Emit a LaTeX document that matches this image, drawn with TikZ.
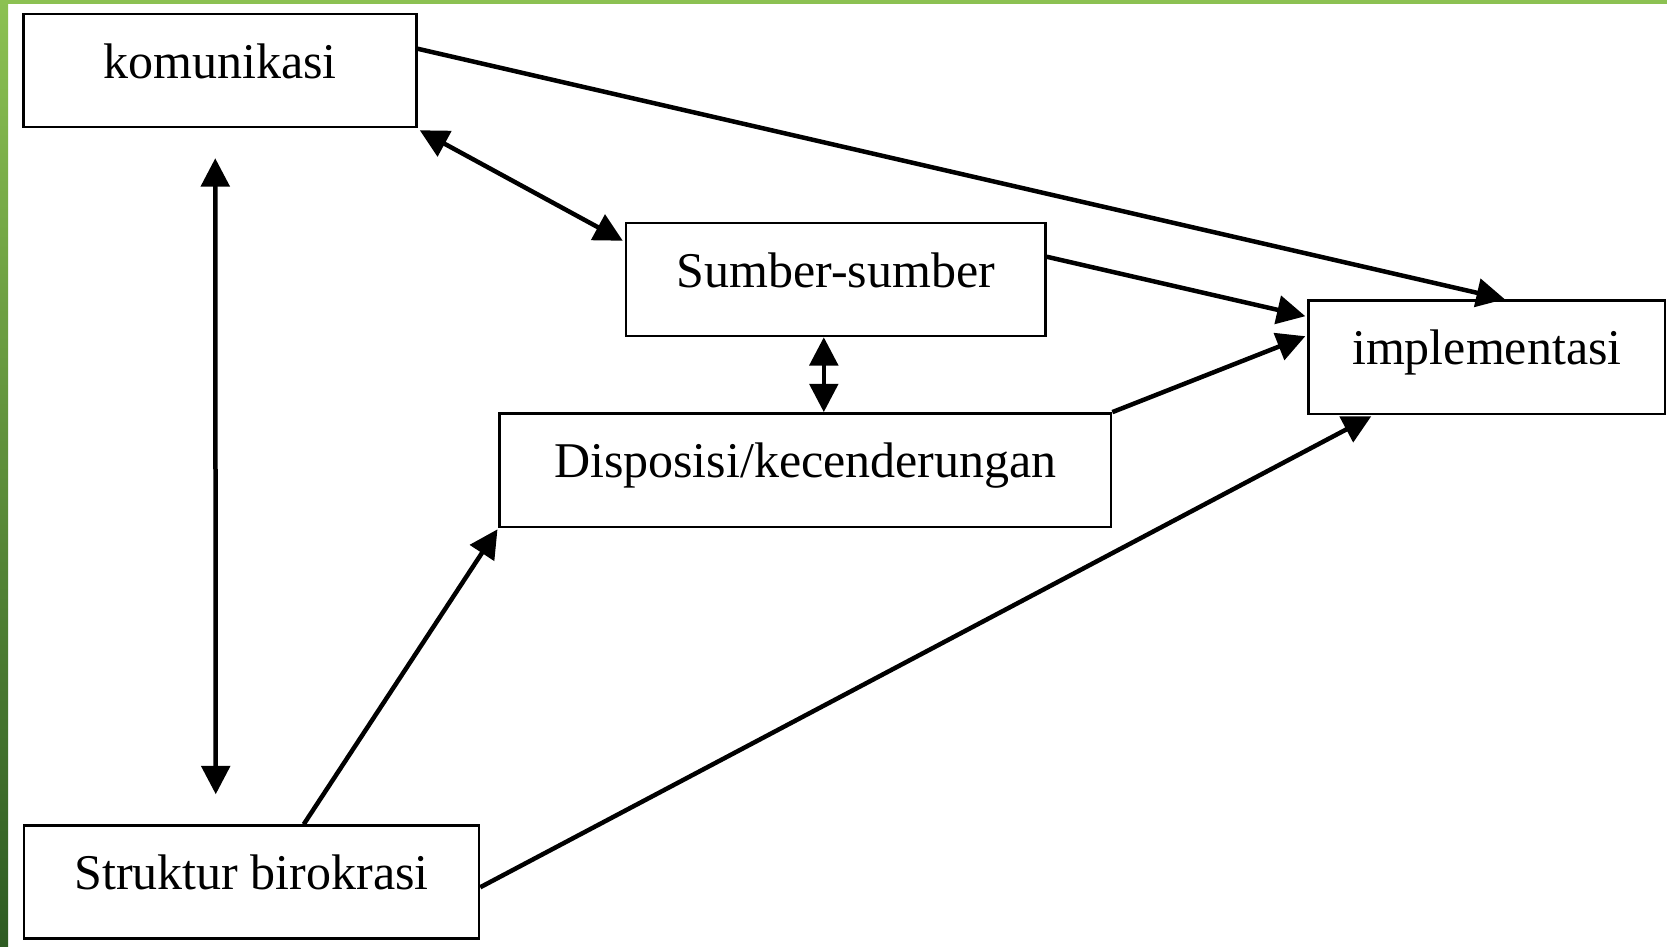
\documentclass[tikz,border=0pt]{standalone}
\usepackage{fontspec}
\setmainfont{Liberation Serif}
\usetikzlibrary{arrows.meta,calc}
\definecolor{gtop}{HTML}{8CC152}
\definecolor{gmid}{HTML}{64A844}
\definecolor{gbot}{HTML}{2E5B22}
\tikzset{
  boxnode/.style={draw=black, line width=1.5pt, fill=white, inner sep=0pt,
    text height=21pt, text depth=12pt, font=\fontsize{30pt}{36pt}\selectfont},
  conn/.style={line width=2.7pt, -{Triangle[length=17pt,width=17pt]}},
  dconn/.style={line width=2.7pt, {Triangle[length=17pt,width=17pt]}-{Triangle[length=17pt,width=17pt]}}
}
\begin{document}
\begin{tikzpicture}[x=0.6pt,y=-0.6pt]
\useasboundingbox (0,0) rectangle (1667,946);
\fill[white] (0,0) rectangle (1667,946);
\fill[gtop] (0,0) rectangle (1667,4);
\shade[top color=gtop, middle color=gmid, bottom color=gbot] (0,0) rectangle (8,946);

\node[boxnode, minimum width=235.8pt, minimum height=67.8pt] (kom) at (220,70.5) {komunikasi};
\node[boxnode, minimum width=251.7pt, minimum height=67.8pt] (sum) at (835.8,279.5) {Sumber-sumber};
\node[boxnode, minimum width=366.8pt, minimum height=68.2pt] (dis) at (805.4,470.2) {Disposisi/kecenderungan};
\node[boxnode, minimum width=213.9pt, minimum height=68.1pt] (imp) at (1486.8,357.2) {implementasi};
\node[boxnode, minimum width=273pt, minimum height=67.8pt] (str) at (251.5,882) {Struktur birokrasi};

% komunikasi -> implementasi
\draw[conn] ($(kom.north east)+(0,36)$) -- ($(imp.north west)+(197.5,0)$);
% komunikasi <-> sumber
\draw[dconn] ($(kom.south east)+(2,2)$) -- ($(sum.north west)+(-2,19)$);
% komunikasi <-> struktur
\coordinate (vt) at ($(kom.south west)+(193,30)$);
\coordinate (vb) at ($(str.north west)+(193,-30)$);
\draw[dconn] (vt) -- (vb);
% sumber -> implementasi
\draw[conn] ($(sum.north east)+(0,35)$) -- ($(imp.north west)+(-2,17)$);
% disposisi -> implementasi
\draw[conn] (dis.north east) -- ($(imp.north west)+(-2,37)$);
% sumber <-> disposisi
\coordinate (sd) at ($(sum.south west)+(199,0)$);
\draw[dconn] (sd) -- (sd |- dis.north);
% struktur -> disposisi
\draw[conn] ($(str.north west)+(281,0)$) -- ($(dis.south west)+(-1,1)$);
% struktur -> implementasi
\draw[conn] ($(str.north east)+(0,63)$) -- ($(imp.south west)+(64,1)$);
\end{tikzpicture}
\end{document}
